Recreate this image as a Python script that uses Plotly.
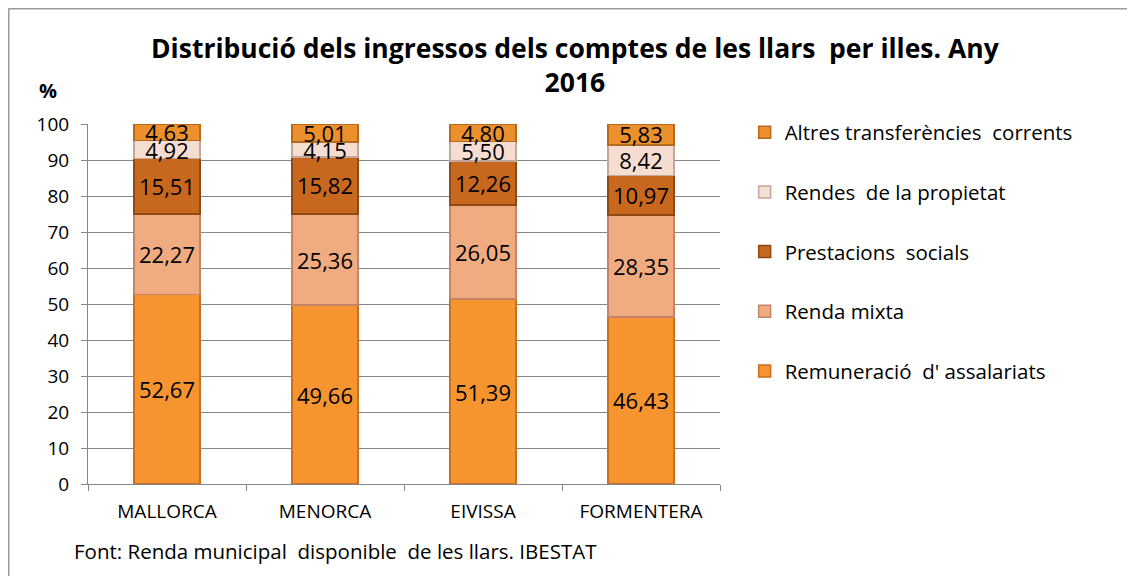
import plotly.graph_objects as go

islands = ["MALLORCA", "MENORCA", "EIVISSA", "FORMENTERA"]
remuneracio = [52.67, 49.66, 51.39, 46.43]
renda_mixta = [22.27, 25.36, 26.05, 28.35]
prestacions = [15.51, 15.82, 12.26, 10.97]
rendes_prop = [4.92, 4.15, 5.50, 8.42]
altres = [4.63, 5.01, 4.80, 5.83]

series = [
    ("Remuneració  d' assalariats", remuneracio, "#F6952F", "#C8701F"),
    ("Renda mixta", renda_mixta, "#F1AB80", "#C3846A"),
    ("Prestacions  socials", prestacions, "#C8671E", "#8E4A15"),
    ("Rendes  de la propietat", rendes_prop, "#F5DDD1", "#C4A79B"),
    ("Altres transferències  corrents", altres, "#EC8F2D", "#B66A1E"),
]

FONT = "Open Sans"
fig = go.Figure()
for i, (name, vals, col, edge) in enumerate(series):
    fig.add_trace(go.Bar(
        x=islands, y=vals, name=name, legendgroup=f"g{i}", legendrank=100 - i,
        marker=dict(color=col, line=dict(color=edge, width=1.5)),
        text=[f"{v:.2f}".replace(".", ",") for v in vals],
        textposition="inside", insidetextanchor="middle",
        constraintext="none", textangle=0,
        textfont=dict(family=FONT, size=22, color="#000000"),
    ))

frame = dict(color="#9A9A9A", width=2)
# page has an 8px body margin: the figure is shifted by (8, 8)
fig.update_layout(
    barmode="stack", bargap=0.58,
    width=1127, height=568,
    margin=dict(l=80, r=415, t=116, b=92),
    paper_bgcolor="white", plot_bgcolor="white",
    font=dict(family=FONT, color="#000000"),
    showlegend=True,
    legend=dict(traceorder="grouped", tracegroupgap=30,
                x=1.039, y=1.032, xanchor="left", yanchor="top",
                font=dict(family=FONT, size=20.5, color="#000000"),
                bgcolor="rgba(0,0,0,0)"),
    xaxis=dict(showline=True, linecolor="#888888", linewidth=1,
               ticks="outside", tickson="boundaries", ticklen=6, tickcolor="#888888",
               tickfont=dict(family=FONT, size=19, color="#000000"),
               ticklabelstandoff=10, showgrid=False),
    yaxis=dict(range=[0, 100], dtick=10, showline=True, linecolor="#888888", linewidth=1,
               ticks="outside", ticklen=6, tickcolor="#888888",
               showgrid=True, gridcolor="#888888", gridwidth=1,
               tickfont=dict(family=FONT, size=19, color="#000000"),
               ticklabelstandoff=8, zeroline=False),
    shapes=[
        dict(type="line", xref="paper", yref="paper",
             x0=-0.1258, x1=1.7, y0=1.3208, y1=1.3208, line=frame, layer="below"),
        dict(type="line", xref="paper", yref="paper",
             x0=-0.1258, x1=-0.1258, y0=-0.4, y1=1.3208, line=frame, layer="below"),
    ],
    annotations=[
        dict(text="<b>Distribució dels ingressos dels comptes de les llars  per illes. Any<br>2016</b>",
             xref="paper", yref="paper", x=0.7706, y=1.163, xanchor="center", yanchor="middle",
             showarrow=False, font=dict(family=FONT, size=26.5, color="#000000")),
        dict(text="<b>%</b>", xref="paper", yref="paper", x=-0.063, y=1.094,
             xanchor="center", yanchor="middle", showarrow=False,
             font=dict(family=FONT, size=20, color="#000000")),
        dict(text="Font: Renda municipal  disponible  de les llars. IBESTAT", xref="paper", yref="paper",
             x=-0.0254, y=-0.186, xanchor="left", yanchor="middle", showarrow=False,
             font=dict(family=FONT, size=20.5, color="#000000")),
    ],
)

fig.write_html("out.html")
